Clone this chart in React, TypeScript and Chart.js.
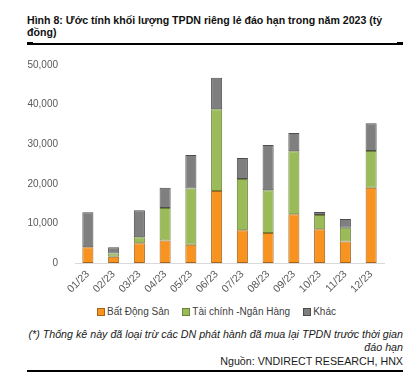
import React, { useEffect, useRef } from "react";
import { Chart, registerables } from "chart.js";

Chart.register(...registerables);

const categories = ["01/23", "02/23", "03/23", "04/23", "05/23", "06/23", "07/23", "08/23", "09/23", "10/23", "11/23", "12/23"];
const batDongSan = [4000, 1600, 5000, 5700, 4600, 18200, 8300, 7600, 12300, 8500, 5400, 19000];
const taiChinhNganHang = [0, 800, 1500, 8200, 14200, 20600, 12900, 10800, 15900, 3600, 3500, 9300];
const khac = [8800, 1600, 6800, 5100, 8500, 8000, 5300, 11400, 4600, 800, 2200, 7000];
const seriesNames = ["Bất Động Sản", "Tài chính -Ngân Hàng", "Khác"];
const seriesFill = ["#F7931E", "#9BBB59", "#7F7F7F"];
const seriesBorder = ["#A8641A", "#6A8538", "#4D4D4D"];

const FONT = '"Liberation Sans", Arial, sans-serif';

export default function App() {
  const ref = useRef<HTMLCanvasElement>(null);
  useEffect(() => {
    const values = [batDongSan, taiChinhNganHang, khac];
    const chart = new Chart(ref.current as HTMLCanvasElement, {
      type: "bar",
      data: {
        labels: categories,
        datasets: values.map((v, i) => ({
          label: seriesNames[i],
          data: v,
          backgroundColor: seriesFill[i],
          borderColor: seriesBorder[i],
          borderWidth: 1,
          borderSkipped: false,
          barPercentage: 0.43,
          categoryPercentage: 1,
        })),
      },
      options: {
        animation: false,
        responsive: false,
        layout: { padding: { top: 7, left: 0, right: 29, bottom: 0 } },
        plugins: { legend: { display: false }, tooltip: { enabled: false } },
        scales: {
          x: {
            stacked: true,
            grid: { display: true, drawOnChartArea: false, drawTicks: false },
            border: { display: true, color: "#D9D9D9", width: 1 },
            ticks: {
              autoSkip: false,
              minRotation: 45,
              maxRotation: 45,
              padding: 5,
              color: "#595959",
              font: { family: FONT, size: 10.5 },
            },
            afterFit: (s: any) => {
              s.height = 35;
            },
          },
          y: {
            stacked: true,
            min: 0,
            max: 50000,
            ticks: { stepSize: 10000, padding: 9, color: "#595959", font: { family: FONT, size: 10 } },
            grid: { display: false },
            border: { display: false },
            afterFit: (s: any) => {
              s.width = 75;
            },
          },
        },
      },
    });
    return () => chart.destroy();
  }, []);

  return (
    <div style={{ position: "absolute", left: 0, top: 0, width: 413, height: 376, background: "#fff", fontFamily: FONT, overflow: "hidden" }}>
      <div style={{ position: "absolute", left: 27, top: 14, fontSize: 10.6, fontWeight: "bold", lineHeight: "12px", color: "#111", whiteSpace: "nowrap" }}>
        Hình 8: Ước tính khối lượng TPDN riêng lẻ đáo hạn trong năm 2023 (tỷ
        <br />
        đồng)
      </div>
      <div style={{ position: "absolute", left: 27, top: 43, width: 376, height: 1.5, background: "#000" }} />
      <div style={{ position: "absolute", left: 27, top: 42, width: 6, height: 3, background: "#000" }} />
      <div style={{ position: "absolute", left: 397, top: 42, width: 6, height: 3, background: "#000" }} />
      <canvas ref={ref} width={413} height={248} style={{ position: "absolute", left: 0, top: 50, width: 413, height: 248 }} />
      <div style={{ position: "absolute", left: 0, width: 413, top: 305, display: "flex", justifyContent: "center", paddingLeft: 20, boxSizing: "border-box", fontSize: 10, color: "#404040", lineHeight: "13px", whiteSpace: "nowrap" }}>
        {seriesNames.map((n, i) => (
          <span key={n} style={{ display: "inline-flex", alignItems: "center", marginRight: i < 2 ? 13 : 0 }}>
            <span style={{ display: "inline-block", width: 6, height: 6, background: seriesFill[i], border: `1px solid ${seriesBorder[i]}`, marginRight: 2 }} />
            {n}
          </span>
        ))}
      </div>
      <div style={{ position: "absolute", right: 10, top: 328, textAlign: "right", fontSize: 10.7, fontStyle: "italic", color: "#1a1a1a", lineHeight: "13px", whiteSpace: "nowrap" }}>
        (*) Thống kê này đã loại trừ các DN phát hành đã mua lại TPDN trước thời gian
        <br />
        đáo hạn
      </div>
      <div style={{ position: "absolute", right: 10, top: 355, textAlign: "right", fontSize: 10.7, color: "#1a1a1a", lineHeight: "13px", whiteSpace: "nowrap" }}>
        Nguồn: VNDIRECT RESEARCH, HNX
      </div>
      <div style={{ position: "absolute", left: 27, top: 370, width: 376, height: 1.5, background: "#000" }} />
    </div>
  );
}
